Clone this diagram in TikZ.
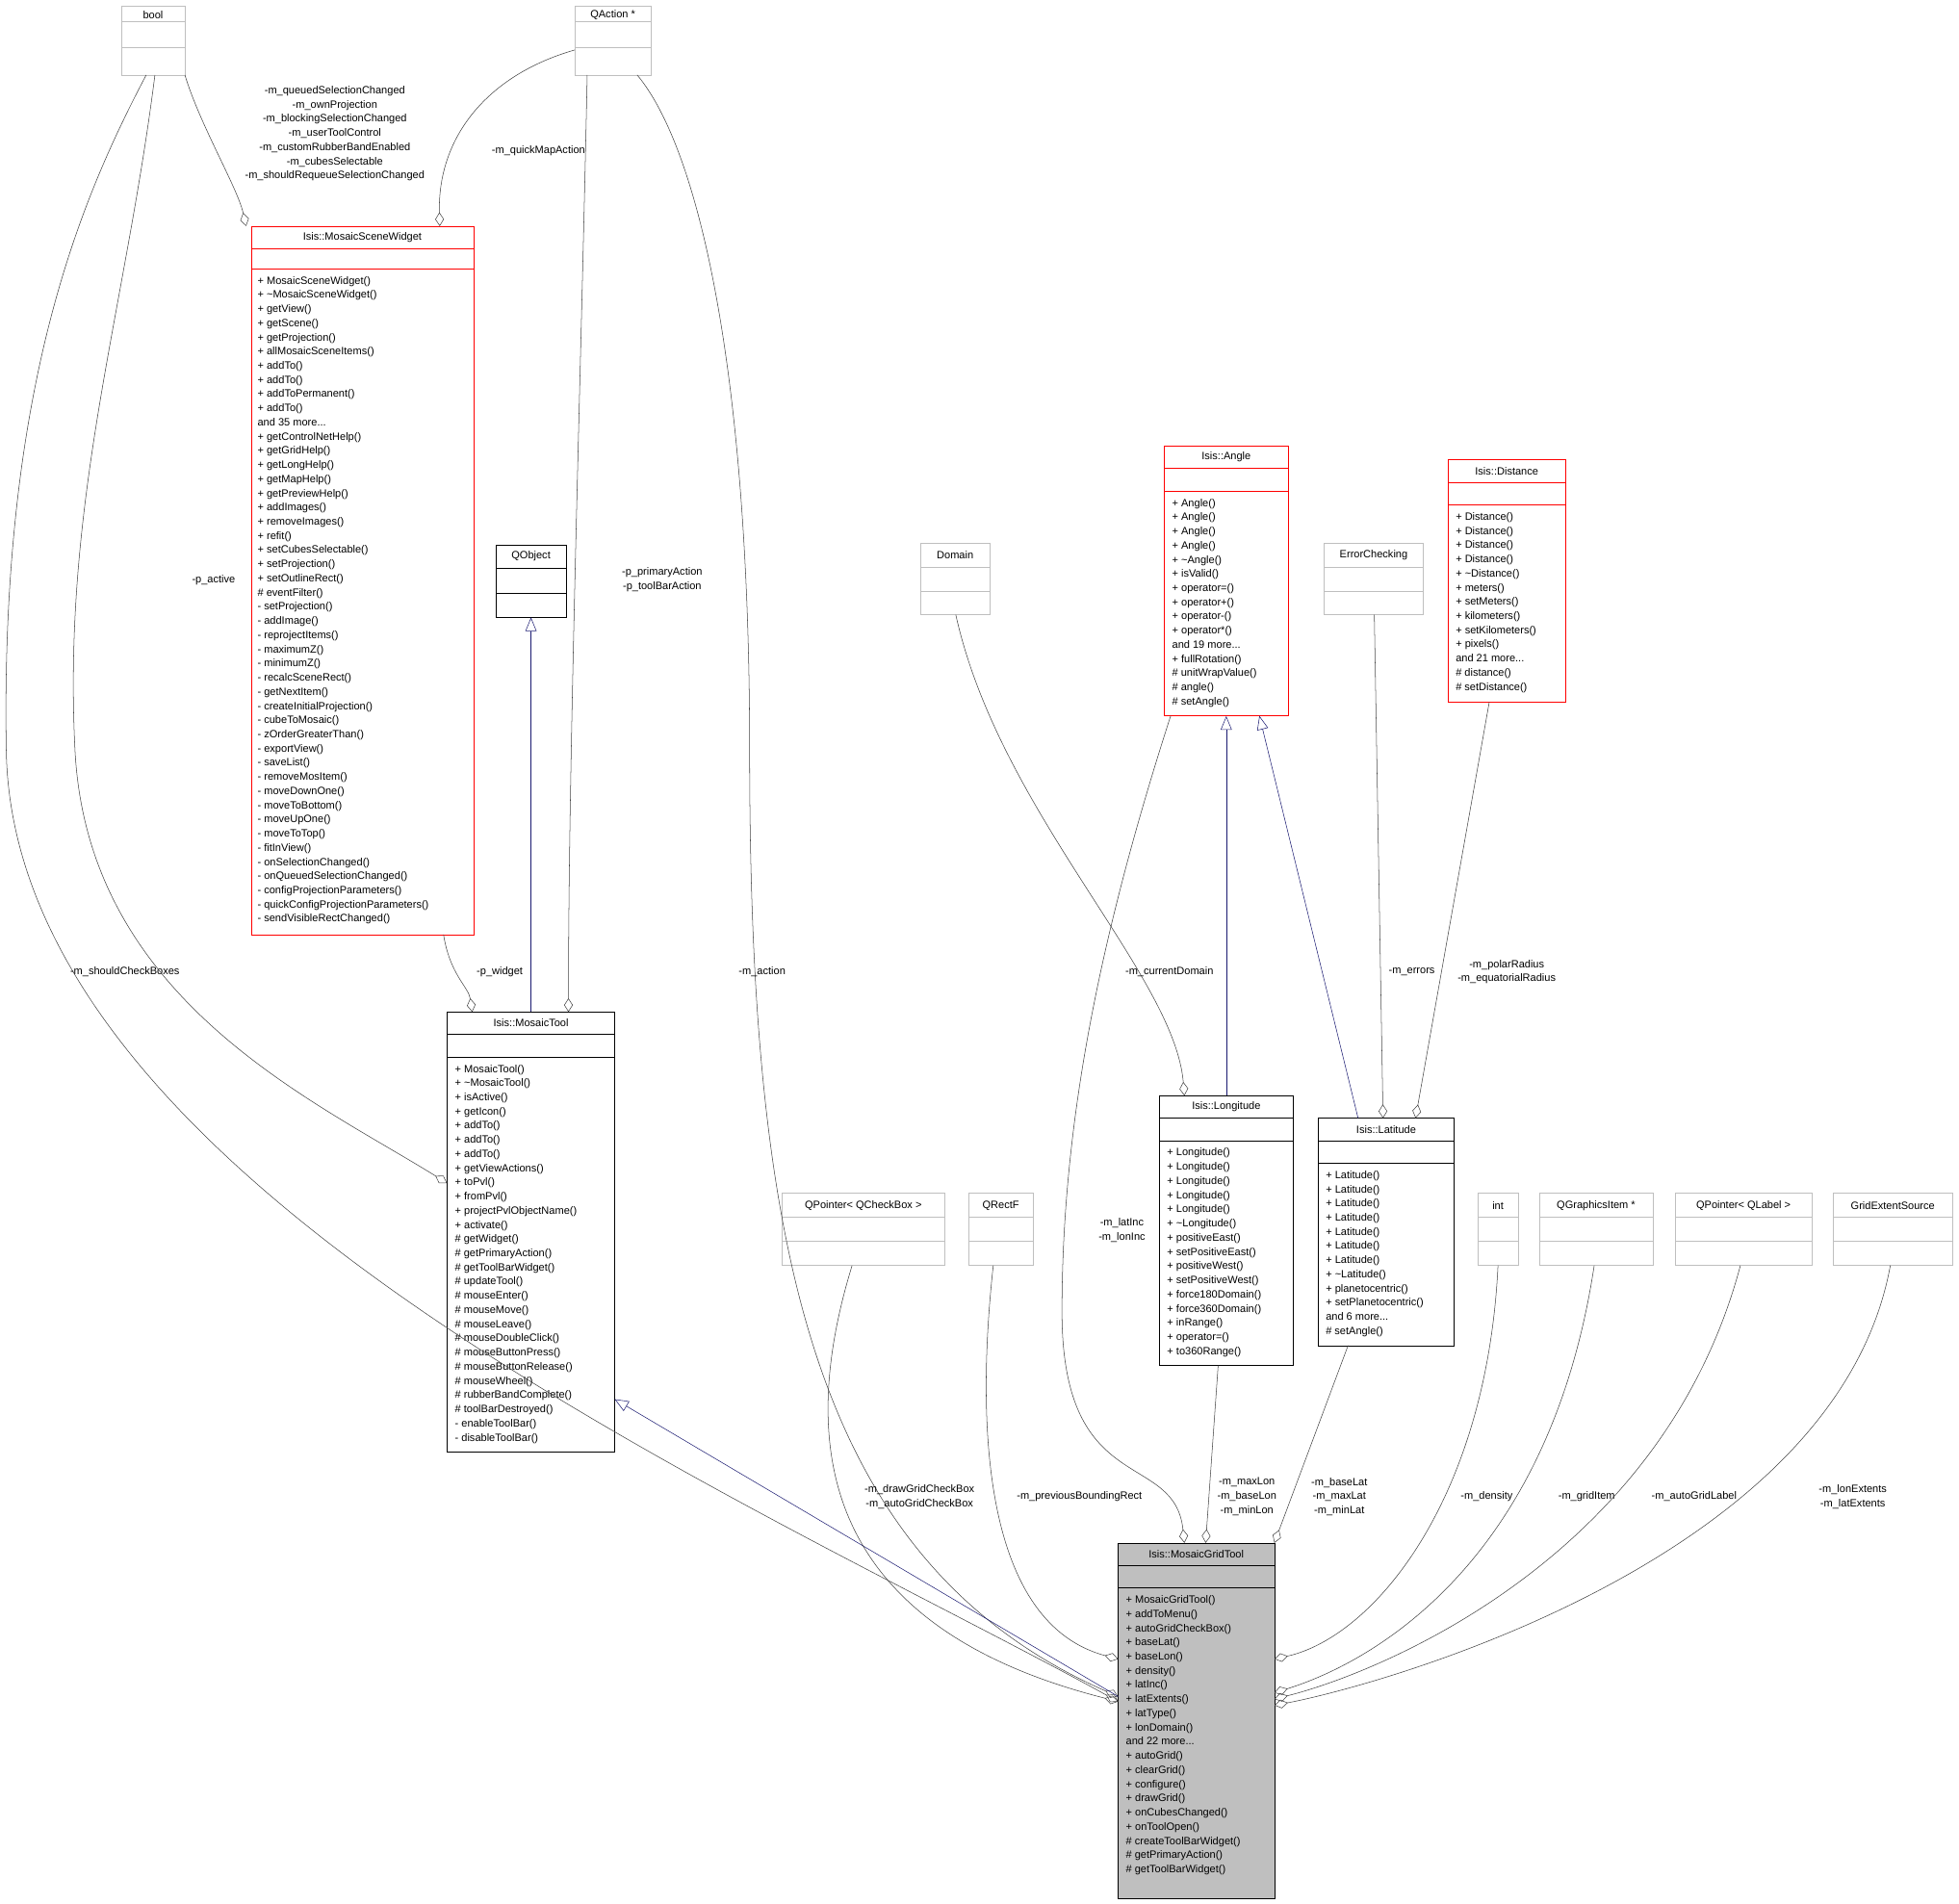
\documentclass[tikz,border=0pt]{standalone}
\usepackage{fontspec}
\setmainfont{Liberation Sans}
\usetikzlibrary{arrows.meta,fit}
\definecolor{ugray}{HTML}{BFBFBF}
\definecolor{cgray}{HTML}{404040}
\definecolor{navy}{HTML}{191970}
\newcommand\umlbox[8]{%
  \node[fit={(#2,#3)(#4,#5)},inner sep=0pt,draw,#8] (#1) {};
  \draw[#8] (#2,#6) -- (#4,#6) (#2,#7) -- (#4,#7);}
\begin{document}
\begin{tikzpicture}[x=1pt,y=-1pt,
  txt/.style={font=\fontsize{8.5}{11.35}\selectfont,inner sep=0pt},
  lst/.style={txt,anchor=north west,align=left},
  lbl/.style={txt,align=center,fill=white,fill opacity=0,text opacity=1},
  agg/.style={cgray,-{Diamond[open,length=11pt,width=7pt]}},
  inh/.style={navy,-{Triangle[open,length=11pt,width=9pt]}}]
\useasboundingbox (0,0) rectangle (1568,1524);
% boxes
\umlbox{bool}{97}{5}{148}{60}{17}{38}{draw=ugray}
\node[txt] at (122.5,12) {bool};
\umlbox{qaction}{460}{5}{521}{60}{17}{38}{draw=ugray}
\node[txt] at (490.5,12) {QAction *};
\umlbox{msw}{201}{181}{379}{748}{199}{215}{draw=red}
\node[txt] at (290,190) {Isis::MosaicSceneWidget};
\node[lst] at (206,221) {+ MosaicSceneWidget()\\+ \textasciitilde MosaicSceneWidget()\\+ getView()\\+ getScene()\\+ getProjection()\\+ allMosaicSceneItems()\\+ addTo()\\+ addTo()\\+ addToPermanent()\\+ addTo()\\and 35 more...\\+ getControlNetHelp()\\+ getGridHelp()\\+ getLongHelp()\\+ getMapHelp()\\+ getPreviewHelp()\\+ addImages()\\+ removeImages()\\+ refit()\\+ setCubesSelectable()\\+ setProjection()\\+ setOutlineRect()\\\# eventFilter()\\- setProjection()\\- addImage()\\- reprojectItems()\\- maximumZ()\\- minimumZ()\\- recalcSceneRect()\\- getNextItem()\\- createInitialProjection()\\- cubeToMosaic()\\- zOrderGreaterThan()\\- exportView()\\- saveList()\\- removeMosItem()\\- moveDownOne()\\- moveToBottom()\\- moveUpOne()\\- moveToTop()\\- fitInView()\\- onSelectionChanged()\\- onQueuedSelectionChanged()\\- configProjectionParameters()\\- quickConfigProjectionParameters()\\- sendVisibleRectChanged()};
\umlbox{qobject}{397}{436}{453}{494}{455}{475}{draw=black}
\node[txt] at (425,445) {QObject};
\umlbox{mtool}{358}{810}{492}{1162}{828}{846}{draw=black}
\node[txt] at (425,819) {Isis::MosaicTool};
\node[lst] at (364,852) {+ MosaicTool()\\+ \textasciitilde MosaicTool()\\+ isActive()\\+ getIcon()\\+ addTo()\\+ addTo()\\+ addTo()\\+ getViewActions()\\+ toPvl()\\+ fromPvl()\\+ projectPvlObjectName()\\+ activate()\\\# getWidget()\\\# getPrimaryAction()\\\# getToolBarWidget()\\\# updateTool()\\\# mouseEnter()\\\# mouseMove()\\\# mouseLeave()\\\# mouseDoubleClick()\\\# mouseButtonPress()\\\# mouseButtonRelease()\\\# mouseWheel()\\\# rubberBandComplete()\\\# toolBarDestroyed()\\- enableToolBar()\\- disableToolBar()};
\umlbox{angle}{932}{357}{1031}{573}{375}{393}{draw=red}
\node[txt] at (981.5,366) {Isis::Angle};
\node[lst] at (938,399) {+ Angle()\\+ Angle()\\+ Angle()\\+ Angle()\\+ \textasciitilde Angle()\\+ isValid()\\+ operator=()\\+ operator+()\\+ operator-()\\+ operator*()\\and 19 more...\\+ fullRotation()\\\# unitWrapValue()\\\# angle()\\\# setAngle()};
\umlbox{distance}{1159}{368}{1253}{562}{386}{404}{draw=red}
\node[txt] at (1206,377) {Isis::Distance};
\node[lst] at (1165,410) {+ Distance()\\+ Distance()\\+ Distance()\\+ Distance()\\+ \textasciitilde Distance()\\+ meters()\\+ setMeters()\\+ kilometers()\\+ setKilometers()\\+ pixels()\\and 21 more...\\\# distance()\\\# setDistance()};
\umlbox{domain}{737}{435}{792}{492}{454}{473}{draw=ugray}
\node[txt] at (764.5,444) {Domain};
\umlbox{errc}{1060}{435}{1139}{492}{454}{473}{draw=ugray}
\node[txt] at (1099.5,444) {ErrorChecking};
\umlbox{lon}{928}{877}{1035}{1093}{895}{913}{draw=black}
\node[txt] at (981.5,886) {Isis::Longitude};
\node[lst] at (934,919) {+ Longitude()\\+ Longitude()\\+ Longitude()\\+ Longitude()\\+ Longitude()\\+ \textasciitilde Longitude()\\+ positiveEast()\\+ setPositiveEast()\\+ positiveWest()\\+ setPositiveWest()\\+ force180Domain()\\+ force360Domain()\\+ inRange()\\+ operator=()\\+ to360Range()};
\umlbox{lat}{1055}{895}{1164}{1077}{913}{931}{draw=black}
\node[txt] at (1109.5,904) {Isis::Latitude};
\node[lst] at (1061,937) {+ Latitude()\\+ Latitude()\\+ Latitude()\\+ Latitude()\\+ Latitude()\\+ Latitude()\\+ Latitude()\\+ \textasciitilde Latitude()\\+ planetocentric()\\+ setPlanetocentric()\\and 6 more...\\\# setAngle()};
\umlbox{qpcb}{626}{955}{756}{1013}{974}{993}{draw=ugray}
\node[txt] at (691,965) {QPointer< QCheckBox >};
\umlbox{qrectf}{775}{955}{827}{1013}{974}{993}{draw=ugray}
\node[txt] at (801,965) {QRectF};
\umlbox{int}{1183}{955}{1215}{1013}{974}{993}{draw=ugray}
\node[txt] at (1199,965) {int};
\umlbox{qgi}{1232}{955}{1323}{1013}{974}{993}{draw=ugray}
\node[txt] at (1277.5,965) {QGraphicsItem *};
\umlbox{qpl}{1341}{955}{1450}{1013}{974}{993}{draw=ugray}
\node[txt] at (1395.5,965) {QPointer< QLabel >};
\umlbox{ges}{1467}{955}{1563}{1013}{974}{993}{draw=ugray}
\node[txt] at (1515,965) {GridExtentSource};
\umlbox{mgt}{895}{1235}{1020}{1520}{1253}{1271}{draw=black,fill=ugray}
\node[txt] at (957.5,1244) {Isis::MosaicGridTool};
\node[lst] at (901,1277) {+ MosaicGridTool()\\+ addToMenu()\\+ autoGridCheckBox()\\+ baseLat()\\+ baseLon()\\+ density()\\+ latInc()\\+ latExtents()\\+ latType()\\+ lonDomain()\\and 22 more...\\+ autoGrid()\\+ clearGrid()\\+ configure()\\+ drawGrid()\\+ onCubesChanged()\\+ onToolOpen()\\\# createToolBarWidget()\\\# getPrimaryAction()\\\# getToolBarWidget()};
% connectors
\draw[agg] (117,60) .. controls (70,150) and (0,300) .. (5,600) .. controls (10,950) and (600,1200) .. (895,1362);
\node[lbl] at (100,778) {-m\_shouldCheckBoxes};
\draw[agg] (124,60) .. controls (100,250) and (50,400) .. (60,600) .. controls (70,800) and (250,880) .. (mtool.west|-0,947);
\node[lbl] at (171,464) {-p\_active};
\draw[agg] (148,60) .. controls (160,100) and (190,150) .. (197,181);
\node[lbl] at (268,107) {-m\_queuedSelectionChanged\\-m\_ownProjection\\-m\_blockingSelectionChanged\\-m\_userToolControl\\-m\_customRubberBandEnabled\\-m\_cubesSelectable\\-m\_shouldRequeueSelectionChanged};
\draw[agg] (460,40) .. controls (390,60) and (350,110) .. (352,181);
\node[lbl] at (431,121) {-m\_quickMapAction};
\draw[agg] (470,60) .. controls (465,300) and (455,600) .. (455,810);
\node[lbl] at (530,464) {-p\_primaryAction\\-p\_toolBarAction};
\draw[agg] (510,60) .. controls (560,120) and (600,300) .. (600,600) .. controls (600,1000) and (650,1250) .. (895,1358);
\node[lbl] at (610,778) {-m\_action};
\draw[agg] (355,748) .. controls (360,780) and (375,790) .. (378,810);
\node[lbl] at (400,778) {-p\_widget};
\draw[inh] (mtool.north) -- (qobject.south);
\draw[inh] (895,1358) -- (492,1120);
\draw[agg] (937,573) .. controls (880,750) and (850,900) .. (850,1050) .. controls (850,1200) and (940,1160) .. (948,1235);
\node[lbl] at (898,985) {-m\_latInc\\-m\_lonInc};
\draw[inh] (lon.north) -- (angle.south);
\draw[inh] (1087,895) -- (1008,573);
\draw[agg] (765,492) .. controls (800,650) and (940,780) .. (948,877);
\node[lbl] at (936,778) {-m\_currentDomain};
\draw[agg] (1100,492) -- (1107,895);
\node[lbl] at (1130,778) {-m\_errors};
\draw[agg] (1192,562) -- (1133,895);
\node[lbl] at (1206,778) {-m\_polarRadius\\-m\_equatorialRadius};
\draw[agg] (975,1093) -- (965,1235);
\node[lbl] at (998,1198) {-m\_maxLon\\-m\_baseLon\\-m\_minLon};
\draw[agg] (1079,1077) -- (1020,1235);
\node[lbl] at (1072,1198) {-m\_baseLat\\-m\_maxLat\\-m\_minLat};
\draw[agg] (682,1013) .. controls (640,1150) and (650,1300) .. (895,1362);
\node[lbl] at (736,1198) {-m\_drawGridCheckBox\\-m\_autoGridCheckBox};
\draw[agg] (795,1013) .. controls (780,1150) and (790,1300) .. (895,1328);
\node[lbl] at (864,1198) {-m\_previousBoundingRect};
\draw[agg] (1199,1013) .. controls (1190,1200) and (1100,1310) .. (1020,1328);
\node[lbl] at (1190,1198) {-m\_density};
\draw[agg] (1276,1013) .. controls (1240,1250) and (1100,1330) .. (1020,1355);
\node[lbl] at (1270,1198) {-m\_gridItem};
\draw[agg] (1393,1013) .. controls (1330,1250) and (1100,1340) .. (1020,1360);
\node[lbl] at (1356,1198) {-m\_autoGridLabel};
\draw[agg] (1513,1013) .. controls (1470,1250) and (1100,1350) .. (1020,1365);
\node[lbl] at (1483,1198) {-m\_lonExtents\\-m\_latExtents};
\end{tikzpicture}
\end{document}
